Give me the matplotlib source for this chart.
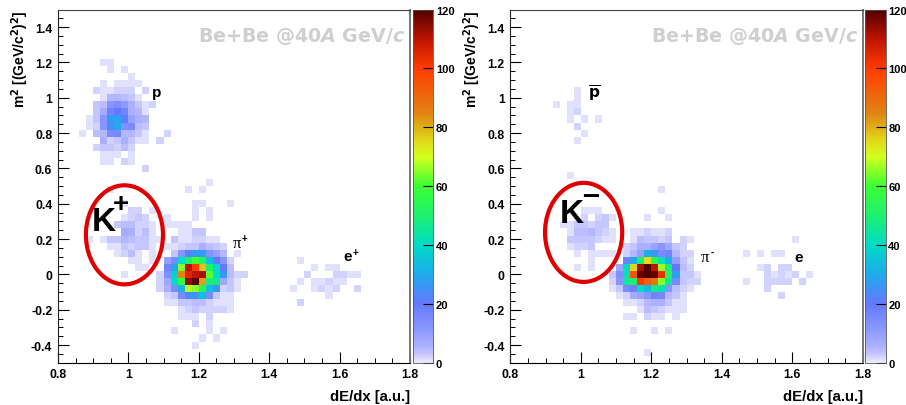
import numpy as np
import matplotlib
matplotlib.use("Agg")
import matplotlib.pyplot as plt
from matplotlib.colors import LinearSegmentedColormap
from matplotlib.patches import Ellipse

plt.rcParams['font.family'] = ['Liberation Sans', 'DejaVu Sans']
plt.rcParams['font.weight'] = 'bold'
plt.rcParams['mathtext.fontset'] = 'dejavusans'

W, H = 906, 406
n_bins = 50
x_edges = np.linspace(0.8, 1.8, n_bins + 1)
y_edges = np.linspace(-0.5, 1.5, n_bins + 1)

# (m2 bin, first dE/dx bin, counts)
kplus_cells = [
    (42, 6, [1, 1]), (41, 7, [1]), (41, 9, [1]), (40, 10, [1]),
    (39, 6, [1]), (39, 8, [1, 1, 1, 1]), (38, 5, [2, 1, 1, 2, 2, 2]), (38, 12, [2]),
    (37, 6, [1, 5, 5, 4, 3, 1]), (36, 5, [3, 4, 12, 14, 11, 6, 3, 1, 2]),
    (35, 5, [3, 7, 17, 20, 17, 6, 5, 1]), (34, 4, [1, 3, 12, 27, 28, 22, 9, 6, 5]),
    (33, 4, [1, 2, 12, 24, 30, 14, 15, 4, 3]),
    (32, 3, [1, 0, 4, 5, 15, 16, 5, 5, 3, 1, 0, 0, 2]),
    (31, 6, [6, 2, 3, 6, 3, 1, 1, 0, 2]), (30, 5, [2, 3, 3, 2, 4, 2]),
    (29, 6, [1, 1, 1, 0, 1]), (28, 6, [1, 1, 0, 2, 1]), (27, 12, [2]),
    (25, 21, [1]), (24, 7, [1]), (24, 18, [1]), (24, 20, [1]),
    (22, 9, [1]), (22, 19, [1, 1]), (22, 24, [1]),
    (21, 10, [2, 2]), (21, 13, [1]), (21, 19, [1]), (21, 21, [1]),
    (20, 9, [1, 2, 3, 2]), (20, 15, [1]), (20, 19, [1]), (20, 21, [1]),
    (19, 8, [3, 4, 4, 2, 2, 1]), (19, 15, [1, 1, 1, 1]),
    (18, 9, [7, 6, 2, 4, 1]), (18, 17, [1, 1, 3, 3]),
    (17, 4, [1]), (17, 6, [1, 3, 3, 5, 4, 3, 3, 1, 1]), (17, 16, [3, 1, 1, 2, 2, 1, 1]),
    (16, 7, [1, 1, 3, 2, 3, 3, 1]), (16, 15, [1, 1, 2, 3, 3, 6, 4, 3, 2]),
    (15, 8, [1, 2, 4, 1]), (15, 13, [1]), (15, 16, [3, 12, 22, 27, 27, 13, 10, 5, 0, 1]),
    (14, 10, [1, 1]), (14, 13, [1]), (14, 15, [10, 15, 40, 50, 60, 52, 33, 20, 12, 2]),
    (13, 11, [1, 1]), (13, 15, [17, 30, 65, 110, 100, 78, 50, 40, 20, 4]),
    (12, 9, [1]), (12, 14, [2, 14, 38, 85, 105, 110, 112, 62, 40, 27, 4, 2, 2]),
    (11, 14, [2, 8, 40, 58, 114, 119, 82, 48, 47, 8, 3, 1]),
    (10, 14, [2, 6, 15, 32, 68, 65, 52, 34, 26, 2, 3, 1]),
    (9, 15, [2, 3, 15, 24, 26, 35, 15, 3, 1, 1]),
    (8, 15, [1, 1, 3, 3, 4, 4, 2, 1, 1, 1]),
    (7, 17, [1, 2, 3, 2, 2, 2, 2, 1]), (6, 17, [1, 1, 1, 0, 2]), (5, 19, [2, 0, 1]),
    (4, 16, [1]), (4, 21, [1]), (4, 23, [1]), (3, 20, [1]), (3, 22, [1]), (2, 19, [1]),
    (14, 34, [1]), (13, 36, [1]), (13, 38, [1, 1]), (12, 35, [2]), (12, 39, [2, 2, 1, 1]),
    (11, 34, [1]), (11, 36, [1, 1, 2, 1, 1]), (10, 33, [1]), (10, 36, [1, 2, 1, 2]),
    (10, 42, [2]), (9, 38, [1]), (8, 34, [2]),
]

kminus_cells = [
    (38, 9, [1]), (37, 9, [1]), (36, 6, [1]), (36, 8, [1, 1]), (35, 8, [1, 2]),
    (34, 8, [1, 0, 1, 0, 1]), (33, 9, [2]), (32, 10, [1]), (31, 9, [1]), (26, 8, [1]),
    (24, 21, [1]), (21, 10, [1, 1, 1]), (21, 21, [1]),
    (20, 10, [2, 0, 2, 3, 1]), (20, 19, [1]), (20, 22, [1]),
    (19, 7, [1, 1, 3, 3, 2, 3, 3]),
    (18, 8, [1, 4, 4, 5, 3, 2, 1]), (18, 17, [1, 1, 2, 1, 1, 2]),
    (17, 8, [3, 3, 3, 3, 2, 1, 1]), (17, 17, [1, 4, 3, 3, 2, 3, 0, 2, 1]),
    (16, 8, [1, 2, 2, 3]), (16, 16, [2, 3, 6, 6, 9, 12, 8, 3, 2]),
    (15, 9, [1, 0, 1, 1, 1, 1]), (15, 16, [2, 5, 10, 30, 27, 15, 17, 5, 2, 2]),
    (14, 11, [1]), (14, 16, [18, 30, 50, 75, 56, 42, 31, 10, 3, 1]),
    (13, 9, [1, 0, 1]), (13, 15, [8, 40, 76, 112, 120, 110, 66, 48, 20, 4, 2]),
    (12, 14, [3, 14, 43, 95, 118, 120, 118, 103, 52, 28, 3, 3, 1]),
    (11, 14, [2, 12, 45, 50, 100, 92, 88, 65, 45, 16, 3, 2, 2]),
    (10, 14, [1, 3, 15, 18, 40, 33, 48, 42, 12, 4, 2, 1]),
    (9, 15, [1, 2, 7, 9, 12, 17, 16, 5, 3, 1]),
    (8, 16, [1, 1, 2, 5, 6, 6, 3, 1, 1]),
    (7, 18, [1, 4, 3, 2, 1, 1, 1]), (6, 16, [1, 1, 0, 2, 1, 1, 0, 1]),
    (4, 17, [1]), (4, 20, [1]), (4, 22, [1]), (1, 19, [1]),
    (17, 40, [1]), (15, 33, [1]), (15, 35, [1]), (15, 37, [1, 1]),
    (13, 35, [1, 2]), (13, 38, [2, 2]), (12, 36, [2, 1, 2, 1, 2]), (12, 42, [1]),
    (11, 33, [1]), (11, 36, [2, 2, 2, 2]), (11, 41, [2]), (10, 36, [2]), (9, 38, [2]),
]

x_ticks = [0.8, 1, 1.2, 1.4, 1.6, 1.8]
x_labels = ['0.8', '1', '1.2', '1.4', '1.6', '1.8']
y_ticks = [-0.4, -0.2, 0, 0.2, 0.4, 0.6, 0.8, 1, 1.2, 1.4]
y_labels = ['-0.4', '-0.2', '0', '0.2', '0.4', '0.6', '0.8', '1', '1.2', '1.4']
z_ticks = [0, 20, 40, 60, 80, 100, 120]

palette = [(0, (235, 235, 255)), (1, (224, 224, 254)), (2, (210, 210, 254)),
           (3, (196, 196, 255)), (6, (170, 175, 255)), (12, (135, 150, 255)),
           (20, (100, 120, 255)), (30, (30, 170, 235)), (40, (0, 220, 200)),
           (50, (30, 240, 110)), (60, (60, 255, 50)), (70, (210, 255, 30)),
           (75, (225, 220, 25)), (85, (225, 130, 20)), (100, (255, 60, 0)),
           (110, (190, 20, 0)), (120, (80, 0, 0))]
cmap = LinearSegmentedColormap.from_list(
    'root_rainbow', [(v / 120, tuple(c / 255 for c in rgb)) for v, rgb in palette], N=1024)
cmap.set_bad((1, 1, 1, 0))


def fill_hist(cells):
    counts = np.zeros((n_bins, n_bins))
    for row, col, values in cells:
        counts[row, col:col + len(values)] = values
    return np.ma.masked_equal(counts, 0)


def box(x0, x1, y_top, y_bottom):
    return [x0 / W, 1 - y_bottom / H, (x1 - x0) / W, (y_bottom - y_top) / H]


def draw_panel(fig, x0, x1, cb0, cb1, cells):
    ax = fig.add_axes(box(x0, x1, 10.5, 363.7))
    cax = fig.add_axes(box(cb0, cb1, 10.5, 363.7))
    mesh = ax.pcolormesh(x_edges, y_edges, fill_hist(cells), cmap=cmap, vmin=0, vmax=120,
                         linewidth=0, rasterized=True)
    ax.set_xlim(0.8, 1.8)
    ax.set_ylim(-0.5, 1.5)
    ax.set_xticks(x_ticks, x_labels)
    ax.set_yticks(y_ticks, y_labels)
    ax.set_xticks(np.arange(0.85, 1.8, 0.05), minor=True)
    ax.set_yticks(np.arange(-0.45, 1.5, 0.05), minor=True)
    ax.tick_params(which='major', direction='in', length=7.6, width=0.8, labelsize=8.8, pad=4)
    ax.tick_params(which='minor', direction='in', length=3.8, width=0.7)
    ax.spines['top'].set_color('#444444')
    ax.spines['left'].set_color('#222222')
    ax.spines['right'].set_color('#777777')
    ax.spines['right'].set_linewidth(1.4)
    ax.set_xlabel('dE/dx [a.u.]', fontsize=10.7, fontweight='bold', loc='right', labelpad=6.5)
    ax.set_ylabel(r'm$^{\mathbf{2}}$ [(GeV/c$^{\mathbf{2}}$)$^{\mathbf{2}}$]', fontsize=10,
                  fontweight='bold', loc='top', labelpad=0)
    ax.text(0.986, 0.925, r'$\mathbf{Be{+}Be\ @40}\mathbfit{A}\ \mathbf{GeV/}\mathbfit{c}$',
            transform=ax.transAxes, ha='right', va='center', color='#cfcfcf', fontsize=13.7)

    cb = fig.colorbar(mesh, cax=cax)
    cb.set_ticks(z_ticks)
    cb.ax.tick_params(direction='in', length=7.2, width=0.8, labelsize=8, pad=2, color='black')
    cb.outline.set_linewidth(0.6)
    cb.outline.set_edgecolor('#555555')
    return ax


fig = plt.figure(figsize=(W / 100, H / 100), dpi=100)

ax1 = draw_panel(fig, 57.9, 410, 412.5, 433, kplus_cells)
ax2 = draw_panel(fig, 510.3, 862.8, 865, 885.5, kminus_cells)

ax1.text(1.08, 1.035, 'p', fontsize=11, ha='center', va='center')
ax1.text(1.31, 0.175, '\u03c0', fontsize=12, fontweight='normal', family='Liberation Serif',
         ha='center', va='center')
ax1.text(1.331, 0.205, '+', fontsize=7, ha='center', va='center')
ax1.text(1.622, 0.105, 'e', fontsize=11, ha='center', va='center')
ax1.text(1.645, 0.125, '+', fontsize=7, ha='center', va='center')
ax1.text(0.897, 0.249, 'K', fontsize=24, ha='left', va='baseline')
ax1.text(0.9795, 0.398, '+', fontsize=20, ha='center', va='center')
ax1.add_patch(Ellipse((0.989, 0.224), 0.219, 0.561, fill=False, edgecolor='#e00000', linewidth=3))

ax2.text(1.04, 1.03, r'$\overline{\mathbf{p}}$', fontsize=11, ha='center', va='center')
ax2.text(1.352, 0.10, '\u03c0', fontsize=12, fontweight='normal', family='Liberation Serif',
         ha='center', va='center')
ax2.text(1.373, 0.13, '-', fontsize=7, ha='center', va='center')
ax2.text(1.619, 0.10, 'e', fontsize=11, ha='center', va='center')
ax2.text(0.941, 0.295, 'K', fontsize=24, ha='left', va='baseline')
ax2.text(1.0275, 0.448, '\u2013', fontsize=22, ha='center', va='center')
ax2.add_patch(Ellipse((1.008, 0.238), 0.219, 0.561, fill=False, edgecolor='#e00000', linewidth=3))

fig.savefig('out.png', dpi=100)
